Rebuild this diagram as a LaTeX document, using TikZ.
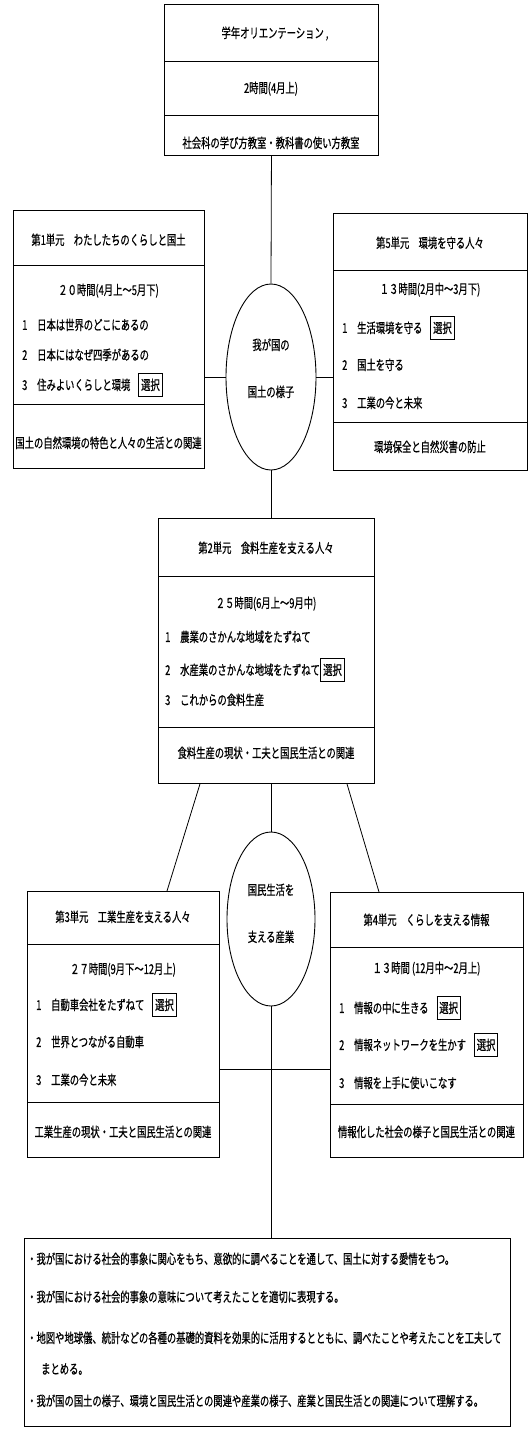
\documentclass[tikz,border=0pt]{standalone}
\usepackage{fontspec}
\setmainfont{Noto Sans CJK JP}[FakeStretch=0.69, FakeBold=0.6]
\usetikzlibrary{shapes.geometric}
\newcommand\itm[2]{\makebox[15pt][l]{#1}#2}
\newcommand\sel[1][8pt]{\hspace{#1}{\setlength\fboxsep{2pt}\setlength\fboxrule{0.8pt}\fbox{\rule[-4pt]{0pt}{18pt}選択}}}
\tikzset{
  box/.style={draw, line width=0.9pt, inner sep=0pt, anchor=north west},
  txt/.style={font=\fontsize{13.5}{15}\selectfont, inner sep=0pt, text height=11.5pt, text depth=1.6pt},
  ltxt/.style={txt, anchor=west},
  ell/.style={draw, ellipse, line width=0.9pt, inner sep=0pt},
  conn/.style={line width=0.8pt},
}
\begin{document}
\begin{tikzpicture}[x=1pt,y=-1pt]
\fill[white] (0,0) rectangle (531,1436);
\useasboundingbox (0,0) rectangle (531,1436);

% top box
\node[box, minimum width=214pt, minimum height=151pt] (top) at (164,4) {};
\draw[conn] (top.west |- 0,61) -- (top.east |- 0,61);
\draw[conn] (top.west |- 0,115) -- (top.east |- 0,115);
\node[txt] (topA) at (275,33) {学年オリエンテーション ,};
\node[txt] (topB) at (271,88) {2時間(4月上)};
\node[txt] (topC) at (271,143) {社会科の学び方教室・教科書の使い方教室};

% unit 1
\node[box, minimum width=191pt, minimum height=258pt] (u1) at (13,210) {};
\draw[conn] (u1.west |- 0,265) -- (u1.east |- 0,265);
\draw[conn] (u1.west |- 0,404) -- (u1.east |- 0,404);
\node[txt] (u1t) at (108.5,240) {第1単元　わたしたちのくらしと国土};
\node[txt] (u1h) at (108.5,290) {２０時間(4月上～5月下)};
\node[ltxt] (u1a) at (22,325) {\itm{1}{日本は世界のどこにあるの}};
\node[ltxt] (u1b) at (22,355) {\itm{2}{日本にはなぜ四季があるの}};
\node[ltxt] (u1c) at (22,385) {\itm{3}{住みよいくらしと環境\sel}};
\node[txt] (u1g) at (108.5,443) {国土の自然環境の特色と人々の生活との関連};

% unit 5
\node[box, minimum width=194pt, minimum height=257pt] (u5) at (333,213) {};
\draw[conn] (u5.west |- 0,270) -- (u5.east |- 0,270);
\draw[conn] (u5.west |- 0,422) -- (u5.east |- 0,422);
\node[txt] (u5t) at (430,243) {第5単元　環境を守る人々};
\node[txt] (u5h) at (430,289) {１３時間(2月中～3月下)};
\node[ltxt] (u5a) at (342,328) {\itm{1}{生活環境を守る\sel}};
\node[ltxt] (u5b) at (342,365) {\itm{2}{国土を守る}};
\node[ltxt] (u5c) at (342,403) {\itm{3}{工業の今と未来}};
\node[txt] (u5g) at (430,447) {環境保全と自然災害の防止};

% ellipse 1
\node[ell, minimum width=90pt, minimum height=186pt] (ell1) at (271,377) {};
\node[txt] (e1a) at (271,345) {我が国の};
\node[txt] (e1b) at (271,392) {国土の様子};
\draw[conn] (top.south) -- (ell1.north);
\draw[conn] (ell1.west) -- (ell1.west -| u1.east);
\draw[conn] (ell1.east) -- (ell1.east -| u5.west);

% unit 2
\node[box, minimum width=216pt, minimum height=265pt] (u2) at (158,518) {};
\draw[conn] (u2.west |- 0,576) -- (u2.east |- 0,576);
\draw[conn] (u2.west |- 0,727) -- (u2.east |- 0,727);
\node[txt] (u2t) at (266,548) {第2単元　食料生産を支える人々};
\node[txt] (u2h) at (266,603) {２５時間(6月上～9月中)};
\node[ltxt] (u2a) at (165,637) {\itm{1}{農業のさかんな地域をたずねて}};
\node[ltxt] (u2b) at (165,670) {\itm{2}{水産業のさかんな地域をたずねて\sel[0.5pt]}};
\node[ltxt] (u2c) at (165,700) {\itm{3}{これからの食料生産}};
\node[txt] (u2g) at (266,753) {食料生産の現状・工夫と国民生活との関連};
\draw[conn] (ell1.south) -- (ell1.south |- u2.north);

% unit 3
\node[box, minimum width=192pt, minimum height=266pt] (u3) at (27,891) {};
\draw[conn] (u3.west |- 0,944) -- (u3.east |- 0,944);
\draw[conn] (u3.west |- 0,1102) -- (u3.east |- 0,1102);
\node[txt] (u3t) at (123,917) {第3単元　工業生産を支える人々};
\node[txt] (u3h) at (123,969) {２７時間(9月下～12月上)};
\node[ltxt] (u3a) at (36,1005) {\itm{1}{自動車会社をたずねて\sel}};
\node[ltxt] (u3b) at (36,1042) {\itm{2}{世界とつながる自動車}};
\node[ltxt] (u3c) at (36,1080) {\itm{3}{工業の今と未来}};
\node[txt] (u3g) at (123,1132) {工業生産の現状・工夫と国民生活との関連};

% unit 4
\node[box, minimum width=193pt, minimum height=265pt] (u4) at (330,892) {};
\draw[conn] (u4.west |- 0,947) -- (u4.east |- 0,947);
\draw[conn] (u4.west |- 0,1104) -- (u4.east |- 0,1104);
\node[txt] (u4t) at (426.5,920) {第4単元　くらしを支える情報};
\node[txt] (u4h) at (426.5,968) {１３時間 (12月中～2月上)};
\node[ltxt] (u4a) at (339,1008) {\itm{1}{情報の中に生きる\sel}};
\node[ltxt] (u4b) at (339,1045) {\itm{2}{情報ネットワークを生かす\sel}};
\node[ltxt] (u4c) at (339,1083) {\itm{3}{情報を上手に使いこなす}};
\node[txt] (u4g) at (426.5,1132) {情報化した社会の様子と国民生活との関連};

% ellipse 2
\node[ell, minimum width=88pt, minimum height=174pt] (ell2) at (271,919) {};
\node[txt] (e2a) at (271,890) {国民生活を};
\node[txt] (e2b) at (271,937) {支える産業};
\draw[conn] (ell2.north |- u2.south) -- (ell2.north);
\draw[conn] ([xshift=42pt]u2.south west) -- ([xshift=140pt]u3.north west);
\draw[conn] ([xshift=189pt]u2.south west) -- ([xshift=49pt]u4.north west);
\coordinate (hj) at (271,1069);
\draw[conn] (hj -| u3.east) -- (hj -| u4.west);

% goals box
\node[box, minimum width=486pt, minimum height=188pt] (goals) at (24,1238) {};
\draw[conn] (ell2.south) -- (ell2.south |- goals.north);
\node[ltxt] (g1) at (27,1259) {・我が国における社会的事象に関心をもち、意欲的に調べることを通して、国土に対する愛情をもつ。};
\node[ltxt] (g2) at (27,1297) {・我が国における社会的事象の意味について考えたことを適切に表現する。};
\node[ltxt] (g3) at (27,1338) {・地図や地球儀、統計などの各種の基礎的資料を効果的に活用するとともに、調べたことや考えたことを工夫して};
\node[ltxt] (g4) at (41,1369) {まとめる。};
\node[ltxt] (g5) at (27,1401) {・我が国の国土の様子、環境と国民生活との関連や産業の様子、産業と国民生活との関連について理解する。};
\end{tikzpicture}
\end{document}
